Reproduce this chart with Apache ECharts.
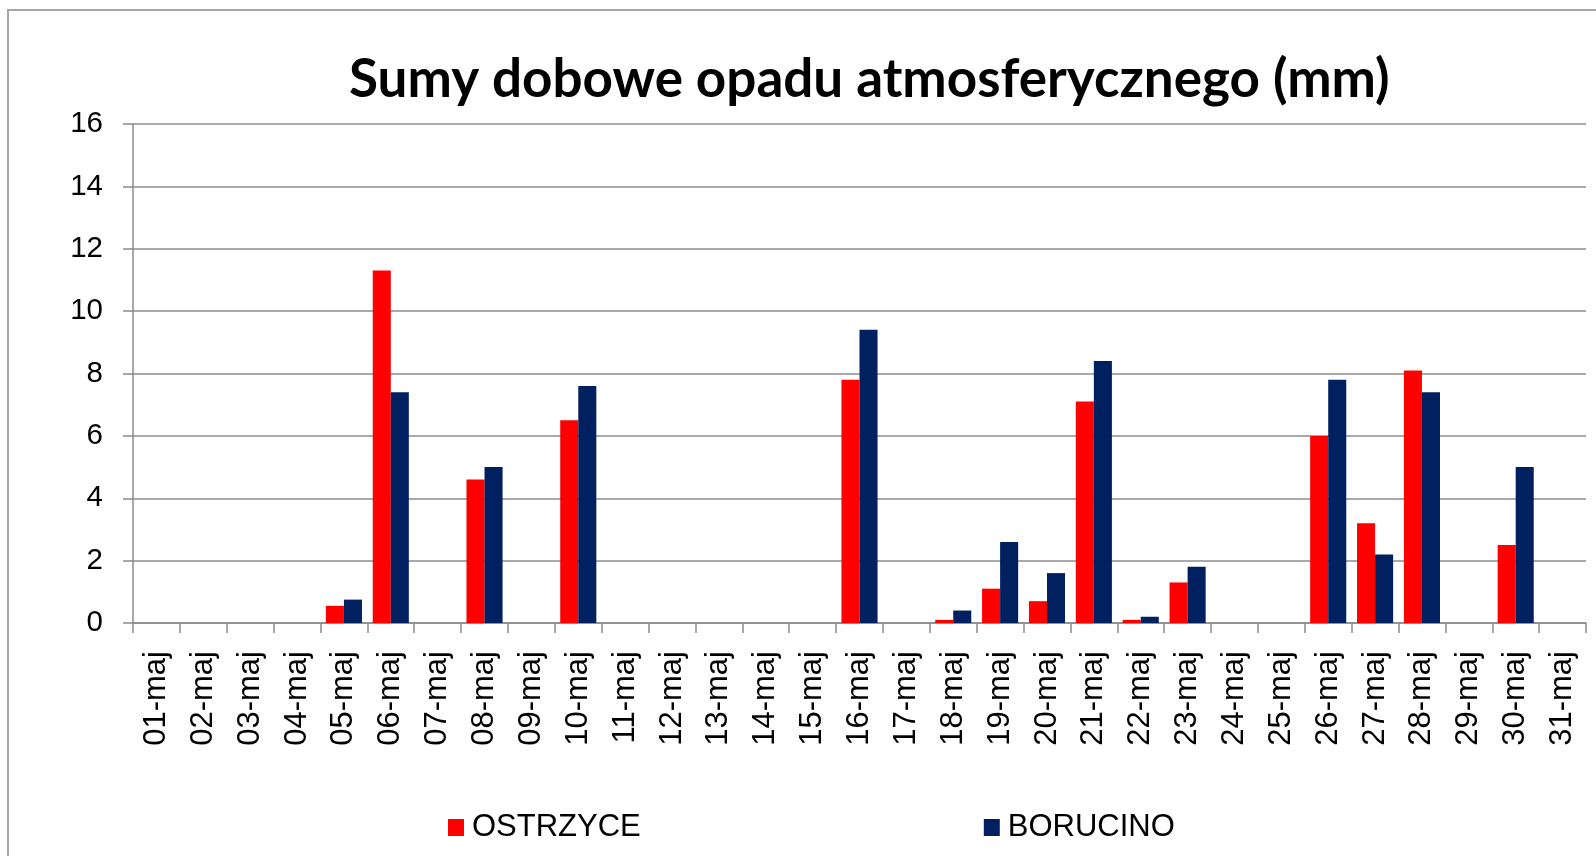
<!DOCTYPE html>
<html>
<head>
<meta charset="utf-8">
<script src="https://cdn.jsdelivr.net/npm/echarts@6/dist/echarts.min.js"></script>
<style>
html,body{margin:0;padding:0;background:#fff;}
#chart{width:1596px;height:856px;}
</style>
</head>
<body>
<div id="chart"></div>
<script>
const categories = ['01-maj','02-maj','03-maj','04-maj','05-maj','06-maj','07-maj','08-maj','09-maj','10-maj',
  '11-maj','12-maj','13-maj','14-maj','15-maj','16-maj','17-maj','18-maj','19-maj','20-maj',
  '21-maj','22-maj','23-maj','24-maj','25-maj','26-maj','27-maj','28-maj','29-maj','30-maj','31-maj'];
const ostrzyce = [0,0,0,0,0.55,11.3,0,4.6,0,6.5, 0,0,0,0,0,7.8,0,0.1,1.1,0.7, 7.1,0.1,1.3,0,0,6.0,3.2,8.1,0,2.5,0];
const borucino = [0,0,0,0,0.75,7.4,0,5.0,0,7.6, 0,0,0,0,0,9.4,0,0.4,2.6,1.6, 8.4,0.2,1.8,0,0,7.8,2.2,7.4,0,5.0,0];
const yTicks = [0,2,4,6,8,10,12,14,16];

const chart = echarts.init(document.getElementById('chart'));
chart.setOption({
  animation:false,
  backgroundColor:'#fff',
  title:{
    text:'Sumy dobowe opadu atmosferycznego (mm)',
    left:349, top:53,
    padding:0,
    textStyle:{fontFamily:'Lato',fontWeight:'bold',fontSize:53,color:'#000'}
  },
  graphic:[{type:'rect',shape:{x:8,y:10,width:1640,height:900},style:{fill:'none',stroke:'#a6a6a6',lineWidth:2},silent:true}],
  legend:{
    left:443, top:807,
    itemWidth:16, itemHeight:17,
    itemGap:343,
    icon:'rect',
    textStyle:{fontFamily:'Liberation Sans',fontSize:31,color:'#000',padding:[0,0,0,3]},
    data:['OSTRZYCE','BORUCINO']
  },
  grid:{left:133,right:10,top:124,bottom:233,containLabel:false},
  xAxis:{
    type:'category',
    data:categories,
    boundaryGap:true,
    axisLine:{show:true,lineStyle:{color:'#8c8c8c',width:1.5}},
    axisTick:{show:true,length:10,lineStyle:{color:'#8c8c8c',width:1.5}},
    axisLabel:{rotate:90,interval:0,margin:28,fontFamily:'Liberation Sans',fontSize:31,color:'#000'}
  },
  yAxis:{
    type:'value',
    min:yTicks[0], max:yTicks[yTicks.length-1], interval:2,
    axisLine:{show:true,lineStyle:{color:'#8c8c8c',width:1.5}},
    axisTick:{show:true,length:10,lineStyle:{color:'#8c8c8c',width:1.5}},
    splitLine:{show:true,lineStyle:{color:'#8c8c8c',width:1.5}},
    axisLabel:{margin:30,fontFamily:'Liberation Sans',fontSize:29.5,color:'#000'}
  },
  series:[
    {name:'OSTRZYCE',type:'bar',data:ostrzyce,barGap:'0%',barCategoryGap:'23%',
     itemStyle:{color:'#ff0000'}},
    {name:'BORUCINO',type:'bar',data:borucino,barGap:'0%',barCategoryGap:'23%',
     itemStyle:{color:'#002060'}}
  ]
});
</script>
</body>
</html>
